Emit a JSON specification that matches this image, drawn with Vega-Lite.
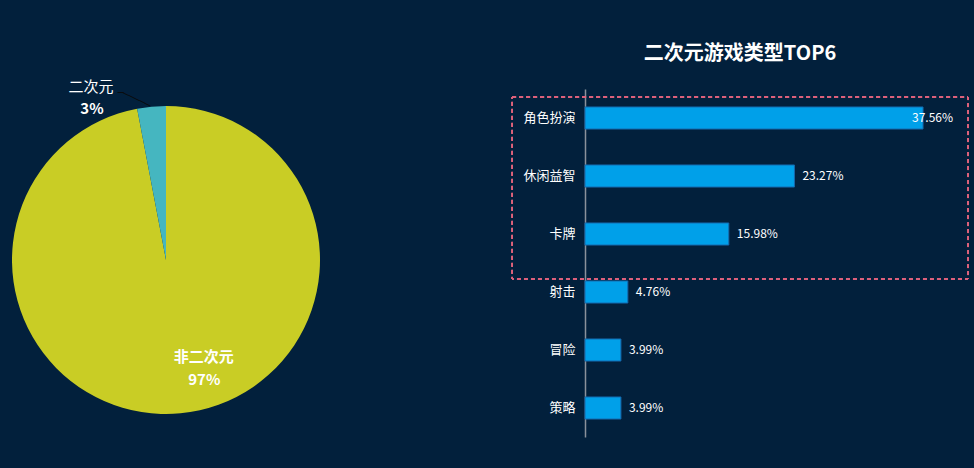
{
  "$schema": "https://vega.github.io/schema/vega-lite/v6.json",
  "background": "#02203c",
  "padding": {"left": 0, "top": 44, "right": 6, "bottom": 33},
  "autosize": {"type": "pad"},
  "config": {
    "view": {"stroke": null},
    "font": "Noto Sans CJK SC",
    "axisY": {"title": null, "ticks": false, "domainColor": "#8a919b", "domainWidth": 1.5, "labelColor": "#ffffff", "labelFontSize": 13, "labelPadding": 10, "grid": false}
  },
  "datasets": {
    "pie": [
      {"name": "非二次元", "share": 0.97},
      {"name": "二次元", "share": 0.03}
    ],
    "games": [
      {"genre": "角色扮演", "share": 0.3756},
      {"genre": "休闲益智", "share": 0.2327},
      {"genre": "卡牌", "share": 0.1598},
      {"genre": "射击", "share": 0.0476},
      {"genre": "冒险", "share": 0.0399},
      {"genre": "策略", "share": 0.0399}
    ]
  },
  "spacing": 253,
  "bounds": "flush",
  "hconcat": [
    {
      "width": 332,
      "height": 342,
      "data": {"name": "pie"},
      "encoding": {
        "theta": {"field": "share", "type": "quantitative", "stack": true},
        "order": {"field": "share", "type": "quantitative", "sort": "descending"}
      },
      "layer": [
        {
          "mark": {"type": "arc", "outerRadius": 154},
          "encoding": {
            "color": {"field": "name", "type": "nominal", "legend": null,
              "scale": {"domain": ["非二次元", "二次元"], "range": ["#c9cd25", "#45b6c0"]}}
          }
        },
        {
          "mark": {"type": "text", "radius": 163, "angle": 25.7, "dx": -12, "dy": 7.8, "fontSize": 10, "font": "DejaVu Sans", "fill": "#0a0a0a", "baseline": "middle", "align": "center"},
          "encoding": {"text": {"condition": {"test": "datum.name === '二次元'", "value": "─────"}, "value": ""}}
        },
        {
          "mark": {"type": "text", "radius": 163, "dx": -30, "dy": -4.7, "fontSize": 10, "font": "DejaVu Sans", "fill": "#0a0a0a", "baseline": "middle", "align": "center"},
          "encoding": {"text": {"condition": {"test": "datum.name === '二次元'", "value": "─"}, "value": ""}}
        },
        {
          "mark": {"type": "text", "radius": 170, "dx": -59, "dy": -4, "fontSize": 15, "fontWeight": "normal", "fill": "#ffffff", "baseline": "middle"},
          "encoding": {"text": {"condition": {"test": "datum.name === '二次元'", "field": "name", "type": "nominal"}, "value": ""}}
        },
        {
          "mark": {"type": "text", "radius": 170, "dx": -58, "dy": 18, "fontSize": 15, "fontWeight": "bold", "fill": "#ffffff", "baseline": "middle"},
          "encoding": {"text": {"condition": {"test": "datum.name === '二次元'", "field": "share", "type": "quantitative", "format": ".0%"}, "value": ""}}
        },
        {
          "mark": {"type": "text", "radius": 110, "dx": 27.5, "dy": -12.5, "fontSize": 15, "fontWeight": "bold", "fill": "#ffffff", "baseline": "middle"},
          "encoding": {"text": {"condition": {"test": "datum.name === '非二次元'", "field": "name", "type": "nominal"}, "value": ""}}
        },
        {
          "mark": {"type": "text", "radius": 110, "dx": 28, "dy": 10.5, "fontSize": 15, "fontWeight": "bold", "fill": "#ffffff", "baseline": "middle"},
          "encoding": {"text": {"condition": {"test": "datum.name === '非二次元'", "field": "share", "type": "quantitative", "format": ".0%"}, "value": ""}}
        }
      ]
    },
    {
      "width": 378,
      "height": 348,
      "title": {"text": "二次元游戏类型TOP6", "fontSize": 20, "fontWeight": "bold", "color": "#ffffff", "offset": 9, "baseline": "alphabetic", "frame": "bounds", "anchor": "middle"},
      "data": {"name": "games"},
      "encoding": {
        "y": {"field": "genre", "type": "nominal", "sort": null, "title": null,
          "scale": {"domain": ["角色扮演", "休闲益智", "卡牌", "射击", "冒险", "策略"], "paddingInner": 0.62, "paddingOuter": 0.31}}
      },
      "layer": [
        {
          "mark": {"type": "bar", "fill": "#00a0e9", "stroke": "#1668ad", "strokeWidth": 1},
          "encoding": {
            "x": {"field": "share", "type": "quantitative", "scale": {"domain": [0, 0.42], "nice": false, "zero": true}, "axis": null}
          }
        },
        {
          "transform": [{"filter": "datum.share < 0.3"}],
          "mark": {"type": "text", "align": "left", "baseline": "middle", "dx": 8, "fill": "#ffffff", "fontSize": 12},
          "encoding": {
            "x": {"field": "share", "type": "quantitative"},
            "text": {"field": "share", "type": "quantitative", "format": ".2%"}
          }
        },
        {
          "transform": [{"filter": "datum.share >= 0.3"}],
          "mark": {"type": "text", "align": "left", "baseline": "middle", "dx": -11, "fill": "#ffffff", "fontSize": 12},
          "encoding": {
            "x": {"field": "share", "type": "quantitative"},
            "text": {"field": "share", "type": "quantitative", "format": ".2%"}
          }
        },
        {
          "mark": {"type": "rect", "filled": false, "stroke": "#e0637c", "strokeDash": [4, 3], "strokeWidth": 1, "yOffset": -21, "y2Offset": -13},
          "encoding": {
            "x": {"datum": -0.081, "type": "quantitative"},
            "x2": {"datum": 0.4256},
            "y": {"datum": "角色扮演", "type": "nominal"},
            "y2": {"datum": "射击"}
          }
        }
      ]
    }
  ]
}
